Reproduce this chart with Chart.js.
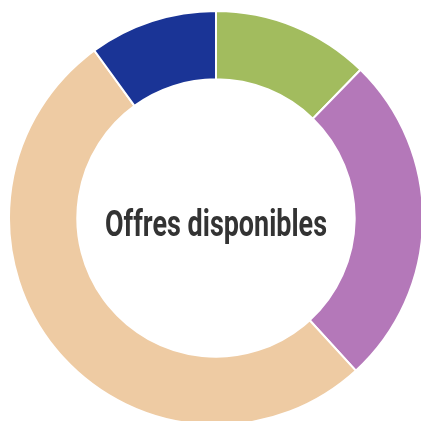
<!DOCTYPE html>
<html>
<head>
<meta charset="utf-8">
<script src="https://cdn.jsdelivr.net/npm/chart.js@4"></script>
<style>
  html, body { margin: 0; padding: 0; background: #fff; overflow: hidden; width: 421px; height: 421px; }
  #wrap { position: absolute; left: 8px; top: 10px; width: 416px; height: 416px; }
</style>
</head>
<body>
<div id="wrap"><canvas id="offresChart"></canvas></div>
<script>
// Data
const labels = ['Catégorie A', 'Catégorie B', 'Catégorie C', 'Catégorie D'];
const values = [12.3, 25.9, 51.8, 10.0];
const colors = ['#a2bc5e', '#b478b9', '#eecba3', '#1a3496'];
const centerTitle = 'Offres disponibles';

// Centre label, squeezed to look like a narrow bold face
const centerText = {
  id: 'centerText',
  afterDraw(chart) {
    const arc = chart.getDatasetMeta(0).data[0];
    if (!arc) return;
    const ctx = chart.ctx;
    ctx.save();
    ctx.font = "bold 36px Roboto, 'Liberation Sans', sans-serif";
    const w = ctx.measureText(centerTitle).width;
    const sx = Math.min(1, 222 / w);
    ctx.fillStyle = '#333333';
    ctx.textAlign = 'center';
    ctx.textBaseline = 'alphabetic';
    ctx.translate(arc.x, arc.y + 18);
    ctx.scale(sx, 1);
    ctx.fillText(centerTitle, 0, 0);
    ctx.restore();
  }
};

new Chart(document.getElementById('offresChart'), {
  type: 'doughnut',
  data: {
    labels: labels,
    datasets: [{
      data: values,
      backgroundColor: colors,
      borderColor: '#ffffff',
      borderWidth: 2
    }]
  },
  options: {
    responsive: true,
    maintainAspectRatio: false,
    animation: false,
    cutout: '67%',
    plugins: { legend: { display: false }, tooltip: { enabled: false } }
  },
  plugins: [centerText]
});
</script>
</body>
</html>
